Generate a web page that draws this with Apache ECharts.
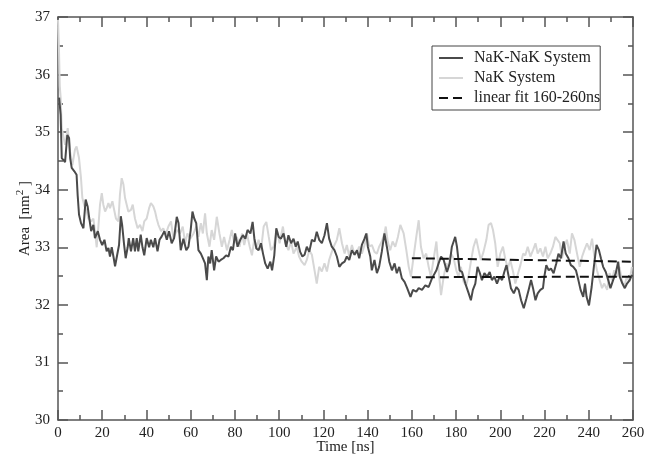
<!DOCTYPE html>
<html lang="en">
  <head>
    <meta charset="UTF-8" />
    <title>Area vs Time</title>
    <style>
      html, body { margin: 0; padding: 0; background: #fff; }
      #main { width: 647px; height: 455px; }
    </style>
  </head>
  <body>
    <div id="main"></div>
    <script src="https://cdn.jsdelivr.net/npm/echarts@6/dist/echarts.min.js"></script>
    <script>
      // NaK-NaK System (dark line), [time ns, area nm^2]
      var nakNak = [
        [0.5,35.6],[1.2,35.3],[1.7,34.55],[3.2,34.48],[4.2,34.95],[5,34.9],[5.5,34.55],[6.2,34.38],[7.4,34.32],[8.4,34.26],
        [8.9,33.9],[9.5,33.57],[10.4,33.42],[11.5,33.33],[12.5,33.83],[13.4,33.71],[14,33.54],[15,33.28],[16,33.39],[16.7,33.16],
        [18,33.28],[19,33.13],[20,33.04],[21,33.13],[22,32.93],[22.8,32.99],[23.5,32.84],[24.3,33],[25.2,32.81],[25.8,32.67],
        [26.5,32.64],[27.6,33.04],[28.4,33.54],[29,33.39],[29.9,33.04],[30.6,32.81],[31.5,33],[32,33.16],[33,32.93],[34,33.16],
        [34.8,32.93],[35.6,33.16],[36.3,32.93],[37.4,33.22],[38.2,33],[39,32.86],[40.1,33.16],[41.2,33],[42,33.13],[43.1,33],
        [43.9,33.16],[45,32.93],[45.9,33.13],[46.9,33.19],[48.1,33.28],[49.2,33.13],[50.2,33.28],[51.4,33.07],[52.5,33.16],[53.7,33.53],
        [54.5,33.42],[55.5,32.95],[56.7,33.15],[58,32.95],[59,33.01],[60,33.3],[60.8,33.62],[61.6,33.5],[62.5,33.42],[63.5,32.95],
        [64.6,32.89],[65.5,32.81],[66.5,32.72],[67.3,32.43],[68,32.84],[68.8,32.72],[69.5,32.95],[70.6,32.6],[71.5,32.84],[72.6,32.75],
        [73.6,32.78],[74.8,32.81],[76,32.86],[77.1,32.84],[78.2,33.01],[79.1,32.95],[80.1,33.24],[81.2,33.01],[82.4,33.13],[83.6,33.21],
        [84.7,33.15],[85.7,33.3],[87,33.24],[88,33.44],[88.8,33.15],[89.7,32.98],[90.7,32.95],[91.8,33.07],[92.7,32.89],[93.7,32.72],
        [94.8,32.63],[96,32.75],[96.8,32.6],[97.8,32.86],[98.7,33.33],[99.8,33.18],[100.8,33.15],[102,33.24],[103.2,33.01],[104.2,33.21],
        [105.4,33.07],[106.5,33.15],[107.5,33.01],[108.4,33.1],[109.5,32.92],[110.5,32.84],[111.5,32.87],[112.5,33.01],[113.6,32.92],[114.8,33.13],
        [116,33.1],[117,33.27],[118.1,33.13],[119.3,33.07],[120.5,33.21],[121.6,33.42],[122.6,33.15],[123.8,33.01],[125,32.95],[126.1,32.84],
        [127.2,32.66],[128.4,32.72],[129.6,32.75],[130.6,32.84],[131.7,32.78],[132.9,32.95],[134.1,32.87],[135.2,32.95],[136.2,32.81],[137.4,33.04],
        [138.6,33.15],[139.4,33.24],[140.1,33.01],[141.2,32.84],[141.9,32.6],[143.1,32.78],[144.2,32.55],[145.2,32.66],[146.4,32.92],[147.6,33.24],
        [148.7,33.01],[149.8,32.75],[151,32.6],[152.2,32.72],[153.2,32.55],[154.3,32.66],[155.5,32.46],[156.7,32.4],[157.8,32.3],[159.4,32.14],
        [160.5,32.26],[162,32.23],[163.1,32.29],[164.6,32.26],[166.1,32.34],[167.6,32.31],[169.1,32.46],[169.9,32.43],[171.1,32.6],[172.1,32.72],
        [173.2,32.84],[174.4,32.78],[175.9,32.57],[177.1,32.72],[178.1,33.01],[178.9,33.1],[179.6,33.18],[180.4,33.01],[181.6,32.6],[182.7,32.57],
        [184.2,32.37],[185.7,32.2],[186.7,32.08],[187.6,32.26],[188.7,32.37],[189.7,32.66],[190.6,32.57],[191.7,32.43],[192.8,32.55],[194,32.49],
        [195.2,32.57],[196.2,32.43],[197.3,32.49],[198.5,32.37],[199.7,32.49],[200.8,32.43],[201.8,32.57],[202.8,32.69],[203.8,32.49],[204.8,32.29],
        [206.1,32.2],[207.3,32.31],[208.3,32.26],[209.4,32.08],[210.6,31.94],[211.8,32.11],[212.8,32.26],[213.9,32.43],[214.8,32.29],[215.9,32.08],
        [216.9,32.2],[218.1,32.26],[219.3,32.29],[219.9,32.49],[220.8,32.69],[221.9,32.6],[222.9,32.63],[224.1,32.55],[225.3,32.72],[226.3,32.89],
        [227.4,32.81],[228.6,33.1],[229.6,32.89],[230.8,32.81],[231.9,32.69],[233,32.66],[234.2,32.6],[235.3,32.43],[236.3,32.26],[237.5,32.14],
        [238.3,32.37],[239,32.14],[240.1,31.99],[241.3,32.31],[242.3,32.66],[243.5,33.04],[244.6,32.95],[245.5,32.81],[246.5,32.66],[247.7,32.57],
        [248.8,32.43],[249.8,32.29],[251,32.43],[252.2,32.55],[253.3,32.75],[254,32.49],[255.2,32.37],[256.3,32.29],[257.3,32.37],[258.5,32.43],
        [259.6,32.52]
      ];

      // NaK System (light line)
      var nak = [
        [0,36.95],[0.4,36.5],[0.8,35.8],[1.2,35.6],[1.7,35.07],[3.2,34.78],[4.4,35.07],[5.4,34.67],[6.5,34.43],[7.7,34.7],
        [8.4,34.75],[9.5,34.55],[10.4,34.2],[11,33.86],[12,33.71],[13,33.62],[13.7,33.5],[15,33.45],[16,33.5],[16.7,33.28],
        [17.5,33],[18.2,33.33],[19,33.74],[19.8,33.94],[20.5,33.74],[21.3,33.62],[22,33.68],[22.8,33.77],[23.5,33.68],[24.6,33.8],
        [25.5,33.83],[26.2,33.5],[27.3,33.45],[28,33.91],[28.8,34.2],[29.6,34.09],[30.3,33.86],[31,33.83],[31.8,33.62],[33,33.65],
        [33.8,33.74],[34.8,33.5],[36,33.33],[37.1,33.39],[38.2,33.28],[39,33.45],[40.1,33.5],[41.2,33.68],[42,33.77],[43.1,33.71],
        [43.9,33.62],[44.6,33.5],[45.4,33.39],[46.6,33.28],[47.6,33.33],[48.7,33.22],[49.9,33.36],[51.1,33.45],[52.2,33.15],[53.7,33.3],
        [55.2,33.24],[56.4,33.36],[57.5,33.07],[58.5,33.24],[59.8,33.15],[61.3,33.24],[62.5,33.36],[63.5,33.18],[64.6,33.42],[65.5,33.24],
        [66.5,33.59],[67.3,33.24],[68.5,33.01],[69.5,33.3],[70.6,33.13],[71.8,33.53],[73,33.24],[74.1,33.01],[75.1,33.18],[76.4,32.95],
        [77.6,33.13],[78.6,33.3],[79.7,33.07],[80.9,33.18],[82.1,33.01],[83.2,33.24],[84.2,33.04],[85.4,33.24],[86.7,33.01],[87.7,32.86],
        [88.8,33.15],[89.7,32.98],[90.7,33.13],[91.8,32.95],[93,33.36],[94.2,33.44],[95.3,33.18],[96.3,32.95],[97.5,33.01],[99,33.3],
        [100.2,33.07],[101.7,33.36],[102.8,33.07],[104.2,32.95],[105.4,33.1],[106.5,32.89],[108,33.01],[109,32.84],[110.2,32.75],[111.5,32.69],
        [112.5,32.78],[113.6,32.95],[114.8,32.87],[116,32.6],[117,32.37],[118.1,32.66],[119.3,32.58],[120.5,32.72],[121.6,32.58],[122.6,32.78],
        [123.8,32.92],[125,33.04],[126.1,33.13],[127.2,33.33],[128.4,33.07],[129.6,32.89],[130.6,33.04],[131.7,32.84],[132.9,33.04],[134.1,32.87],
        [135.2,32.92],[136.2,33.01],[137.4,32.89],[138.6,33.04],[139.7,33.24],[140.7,33.01],[141.9,33.04],[143.1,32.92],[144.2,32.89],[145.2,33.01],
        [146.4,33.1],[147.6,33.24],[148.2,33.36],[149.1,33.1],[150.2,32.95],[151.3,33.1],[152.5,33.01],[153.7,33.18],[154.8,33.39],[156.3,33.24],
        [157.5,32.95],[158.6,32.66],[159.6,32.49],[160.8,32.84],[162,33.18],[163.1,33.47],[164.1,33.01],[165.3,32.81],[166.5,32.89],[167.6,32.66],
        [168.6,32.49],[169.9,32.81],[171.1,33.1],[172.1,32.6],[173.2,32.17],[174.4,32.49],[175.6,32.72],[176.6,32.66],[177.7,32.89],[178.9,32.81],
        [180.1,32.6],[181.1,32.49],[182.2,32.66],[183.4,32.4],[184.6,32.34],[185.6,32.49],[186.7,32.75],[187.9,33.01],[189.1,33.15],[190.2,32.95],
        [191.2,32.78],[192.4,32.92],[193.7,33.13],[194.7,33.39],[195.8,33.42],[196.7,33.3],[197.7,33.07],[198.8,32.66],[200,32.89],[201.2,33.01],
        [202.2,32.81],[203.4,32.63],[204.5,32.78],[205.8,32.57],[206.8,32.37],[207.8,32.52],[209.1,32.69],[210.3,32.89],[211.3,32.86],[212.4,33.01],
        [213.6,32.84],[214.8,32.95],[215.9,33.07],[216.9,32.89],[218.1,32.98],[219.3,32.84],[220.4,33.01],[221.4,32.81],[222.6,32.89],[223.8,33.01],
        [224.9,33.18],[226,33.12],[226.9,33.07],[227.9,32.81],[229,33.01],[230.1,33.13],[231.4,32.89],[232.4,33.24],[233.5,33.13],[234.7,32.89],
        [235.9,32.66],[237,32.84],[238,32.95],[239.2,33.07],[240.4,32.95],[241.5,33.15],[242.6,32.81],[243.7,32.6],[244.9,32.43],[246,32.29],
        [247,32.37],[248.3,32.26],[249.4,32.55],[250.5,32.43],[251.5,32.6],[252.8,32.49],[253.9,32.66],[254.9,32.43],[256,32.31],[257.2,32.49],
        [258.4,32.4],[259.5,32.66]
      ];

      // linear fits 160-260 ns
      var fitNak = [[160, 32.81], [260, 32.75]];
      var fitNakNak = [[160, 32.48], [260, 32.49]];

      var font = "'Liberation Serif', 'DejaVu Serif', serif";
      var axisColor = "#555";

      var myChart = echarts.init(document.getElementById("main"));

      var baseX = {
        type: "value",
        min: 0,
        max: 260,
        interval: 20,
        axisLine: { onZero: false, lineStyle: { color: axisColor, width: 1.5 } },
        axisTick: { inside: true, length: 10, lineStyle: { color: axisColor, width: 1.5 } },
        minorTick: { show: true, splitNumber: 2, length: 5, lineStyle: { color: axisColor, width: 1.5 } },
        splitLine: { show: false },
      };
      var baseY = {
        type: "value",
        min: 30,
        max: 37,
        interval: 1,
        axisLine: { show: true, onZero: false, lineStyle: { color: axisColor, width: 1.5 } },
        axisTick: { show: true, inside: true, length: 10, lineStyle: { color: axisColor, width: 1.5 } },
        minorTick: { show: true, splitNumber: 2, length: 5, lineStyle: { color: axisColor, width: 1.5 } },
        splitLine: { show: false },
      };

      var option = {
        backgroundColor: "#fff",
        animation: false,
        textStyle: { fontFamily: font },
        grid: { left: 58, right: 14, top: 17, bottom: 35, outerBoundsMode: "none" },
        legend: {
          orient: "vertical",
          left: 432,
          top: 46,
          padding: [3, 0, 3, 6],
          itemGap: 2,
          itemWidth: 24,
          itemHeight: 18,
          borderColor: "#444",
          borderWidth: 1,
          backgroundColor: "#fff",
          itemStyle: { opacity: 0 },
          textStyle: { fontFamily: font, fontSize: 16, lineHeight: 18, color: "#222", padding: [0, 0, 0, 6] },
          data: ["NaK-NaK System", "NaK System", "linear fit 160-260ns"],
        },
        xAxis: [
          Object.assign({}, baseX, {
            position: "bottom",
            name: "Time [ns]",
            nameLocation: "middle",
            nameGap: 20,
            nameMoveOverlap: false,
            nameTextStyle: { fontFamily: font, fontSize: 15, color: "#222" },
            axisLabel: { fontFamily: font, fontSize: 15, color: "#222", margin: 6 },
          }),
          Object.assign({}, baseX, { position: "top", axisLabel: { show: false } }),
        ],
        yAxis: [
          Object.assign({}, baseY, {
            position: "left",
            name: "Area  [nm{sup|2} ]",
            nameLocation: "middle",
            nameGap: 23,
            nameMoveOverlap: false,
            nameTextStyle: {
              fontFamily: font,
              fontSize: 15,
              color: "#222",
              rich: { sup: { fontFamily: font, fontSize: 11, color: "#222", padding: [0, 0, 9, 0] } },
            },
            axisLabel: { fontFamily: font, fontSize: 15, color: "#222", margin: 8 },
          }),
          Object.assign({}, baseY, { position: "right", axisLabel: { show: false } }),
        ],
        series: [
          {
            name: "NaK System",
            type: "line",
            symbol: "none",
            z: 2,
            lineStyle: { color: "#d6d6d6", width: 2 },
            itemStyle: { color: "#d6d6d6" },
            data: nak,
          },
          {
            name: "NaK-NaK System",
            type: "line",
            symbol: "none",
            z: 3,
            lineStyle: { color: "#4a4a4a", width: 2 },
            itemStyle: { color: "#4a4a4a" },
            data: nakNak,
          },
          {
            name: "linear fit 160-260ns",
            type: "line",
            symbol: "none",
            z: 4,
            lineStyle: { color: "#111", width: 2, type: [9, 5] },
            itemStyle: { color: "#111" },
            data: fitNak,
          },
          {
            name: "linear fit 160-260ns",
            type: "line",
            symbol: "none",
            z: 4,
            lineStyle: { color: "#111", width: 2, type: [9, 5] },
            itemStyle: { color: "#111" },
            data: fitNakNak,
          },
        ],
      };

      myChart.setOption(option);
    </script>
  </body>
</html>
